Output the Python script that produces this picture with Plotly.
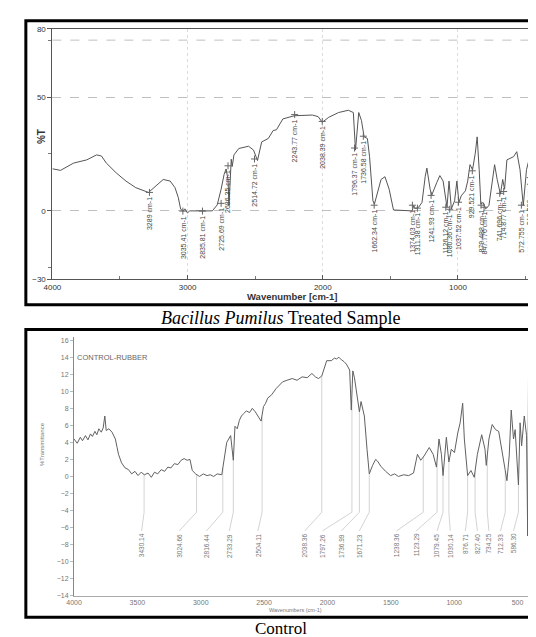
import plotly.graph_objects as go

W, H = 536, 637

# ---------------- Top spectrum: Bacillus Pumilus treated sample ----------------
top_wn = [4000, 3940, 3843, 3746, 3673, 3637, 3601, 3528, 3456, 3383,
          3289, 3238, 3180, 3129, 3093, 3069, 3051, 3033, 3020, 3001,
          2984, 2817, 2781, 2752, 2730, 2715, 2701, 2694, 2684, 2677,
          2670, 2657, 2621, 2549, 2512, 2483, 2452, 2403, 2367, 2343,
          2295, 2210, 2077, 2034, 2004, 1956, 1883, 1811, 1774, 1758,
          1734, 1714, 1694, 1670, 1654, 1629, 1618, 1593, 1569, 1540,
          1509, 1477, 1339, 1327, 1315, 1291, 1266, 1242, 1230, 1206,
          1194, 1157, 1134, 1110, 1090, 1081, 1066, 1049, 1025, 1008,
          993, 976, 945, 928, 911, 892, 872, 858, 843, 831,
          814, 795, 771, 747, 729, 710, 686, 669, 655, 638,
          589, 565, 541, 517, 493, 475, 456, 444, 437, 430,
          420, 412, 404]
top_T = [18.5, 17.8, 21, 22.4, 24.6, 24.1, 21, 16.7, 13.1, 10.2,
         8.1, 10.9, 13.8, 13.1, 10.2, 5.9, 0.7, 0, 0.9, -0.9,
         0, 0, 2.6, 9.5, 16, 18.4, 13.8, 2.3, 11.6, 22.7,
         19.5, 24.6, 27.4, 28.4, 26.7, 22.1, 30.3, 31.8, 35.3, 35.6,
         40.4, 41.8, 42.1, 41.4, 38.9, 41.1, 43.2, 44.2, 43.2, 26.7,
         43.2, 39.7, 32.5, 31.8, 23.8, 4.4, 3, 8, 13.8, 15,
         9.5, 0.4, 0, 2.3, 1, 1.6, 3.7, 15.2, 18.8, 9.5,
         6.9, 12.4, 15.5, 13.1, 4.4, 1.6, 13.1, 0.9, 4.4, 13.1,
         3.7, 6.6, 8.8, 13.1, 20.3, 18.1, 25.3, 32.5, 18.1, 3,
         3.7, 0.9, 2.3, 13.8, 20.3, 13.8, 7.3, 13.8, 9.5, 22.4,
         23.8, 26, 18.1, 2.3, 18.1, 22.4, 13.8, 22.4, 52.6, 26.7,
         52.6, 31, 50]

top_peak_labels = ["3289 cm-1", "3035.41 cm-1", "2835.81 cm-1", "2725.69 cm-1",
                   "2686.35 cm-1", "2514.72 cm-1", "2243.77 cm-1", "2038.39 cm-1",
                   "1796.37 cm-1", "1736.58 cm-1", "1662.34 cm-1", "1374.03 cm-1",
                   "1311.38 cm-1", "1241.93 cm-1", "1126.12 cm-1", "1080.36 cm-1",
                   "1037.52 cm-1", "929.521 cm-1", "879.488 cm-1", "847.776 cm-1",
                   "741.696 cm-1", "714.877 cm-1", "572.755 cm-1", "513.936 cm-1",
                   "465.187 cm-1", "449.333 cm-1", "440.444 cm-1", "419.785 cm-1",
                   "410.761 cm-1"]
top_peak_wn = [3282, 3035, 2890, 2752, 2701, 2505, 2208, 2004, 1765, 1700,
               1620, 1337, 1300, 1199, 1090, 1061, 996, 894, 829, 807,
               691, 662, 531, 466, 456, 466, 456, 446, 446]
top_peak_T = [6.5, -1.7, -1.7, 1.7, 18.2, 21.2, 40.7, 37.7, 26, 31.2,
              0.9, 0.9, -0.4, 5.2, 0, -0.9, 2.2, 16, 0.9, 0,
              6.1, 6.9, 0.9, 13, 46.3, -1.3, -1.3, 46.3, -1.3]

# ---------------- Bottom spectrum: control rubber ----------------
bot_wn = [4000, 3975, 3950, 3933, 3910, 3890, 3870, 3855, 3835, 3820,
          3804, 3785, 3770, 3757, 3746, 3725, 3700, 3674, 3660, 3649,
          3625, 3597, 3570, 3545, 3519, 3495, 3470, 3445, 3416, 3390,
          3365, 3340, 3312, 3285, 3260, 3235, 3209, 3180, 3155, 3131,
          3108, 3085, 3067, 3040, 3010, 2980, 2950, 2925, 2898, 2870,
          2834, 2821, 2795, 2764, 2751, 2743, 2730, 2712, 2695, 2679,
          2660, 2640, 2615, 2593, 2570, 2549, 2524, 2505, 2488, 2472,
          2440, 2407, 2380, 2355, 2320, 2278, 2240, 2200, 2160, 2123,
          2095, 2071, 2045, 2030, 2006, 1970, 1945, 1929, 1910, 1890,
          1870, 1851, 1825, 1812, 1800, 1787, 1760, 1748, 1735, 1709,
          1688, 1670, 1644, 1620, 1605, 1579, 1541, 1502, 1470, 1440,
          1399, 1360, 1321, 1290, 1264, 1238, 1197, 1166, 1140, 1120,
          1101, 1088, 1062, 1042, 1023, 998, 972, 953, 933, 920,
          894, 868, 842, 817, 783, 757, 747, 726, 700, 674,
          649, 628, 597, 584, 566, 550, 532, 519, 493, 480,
          468, 447, 429, 420, 412]
bot_T = [4.4, 3.9, 4.6, 4.2, 4.8, 4.3, 5.0, 4.7, 5.3, 4.9,
         5.6, 5.2, 5.7, 7.1, 5.4, 5.6, 5.2, 4.4, 3.4, 2.6,
         1.6, 1.0, 0.8, 0.3, 0.6, 0.1, 0.5, 0.2, 0.4, -0.1,
         0.5, 0.3, 0.8, 0.6, 1.1, 1.0, 1.5, 1.4, 1.9, 2.1,
         1.9, 2.0, 0.7, 0.3, 0.0, 0.3, 0.1, 0.2, 0.0, 0.3,
         0.2, 1.5, 4.0, 4.8, 2.8, 1.9, 5.9, 5.6, 6.6, 7.1,
         7.4, 7.7, 7.5, 8.0, 7.6, 7.1, 6.5, 8.2, 8.6, 9.2,
         9.6, 10.3, 10.7, 11.1, 11.3, 11.5, 11.3, 11.7, 11.6, 12.1,
         11.7, 11.5, 11.8, 12.6, 13.6, 13.6, 13.9, 13.8, 14.0, 13.7,
         13.5, 13.2, 12.5, 7.8, 12.4, 11.6, 8.6, 7.6, 8.8, 7.1,
         3.2, 0.3, 1.3, 2.0, 1.8, 1.2, 0.6, 0.1, 0.3, 0.0,
         0.2, 0.1, 0.4, 2.6, 1.9, 2.4, 3.4, 2.6, 1.1, 4.4,
         2.6, 0.1, 4.6, 1.7, 3.2, 2.8, 5.1, 6.3, 8.6, 4.4,
         0.1, 0.7, -0.1, 2.6, 4.9, 3.2, 1.3, 4.4, 6.1, 5.5,
         5.3, 3.6, 0.7, -0.5, 2.4, 7.8, 4.4, 5.5, -1.0, 6.3,
         3.6, 7.1, 4.8, -7.0, 16.5]

bot_peak_labels = ["3430.14", "3024.66", "2816.44", "2733.29", "2504.11", "2038.36",
                   "1797.26", "1736.99", "1671.23", "1238.36", "1123.29", "1079.45",
                   "1030.14", "876.71", "827.40", "734.25", "712.33", "586.30"]
bot_peak_wn = [3447, 3033, 2826, 2743, 2516, 2045, 1807, 1748, 1670, 1244,
               1135, 1088, 1042, 894, 835, 739, 597, 493]
bot_peak_T = [0.3, 0.2, 1.0, 1.9, 7.0, 11.8, 9.0, 7.6, 0.3, 2.3,
              1.5, 0.1, 1.7, 0.1, 0.5, 2.5, 0.7, -1.0]
bot_label_wn = [3467, 3170, 2955, 2774, 2549, 2179, 2040, 1890, 1748, 1455,
                1300, 1135, 1031, 912, 817, 726, 635, 532]

top_xticks = [4000, 3000, 2000, 1000, 400]
top_yticks = [80, 50, 0, -30]
bot_xticks = [4000, 3500, 3000, 2500, 2000, 1500, 1000, 500]
bot_yticks = [-14, -12, -10, -8, -6, -4, -2, 0, 2, 4, 6, 8, 10, 12, 14, 16]


def px(x):
    return x / W


def py(y):
    return 1 - y / H


SANS = "Liberation Sans, Arial, sans-serif"
SERIF = "Liberation Serif, Times New Roman, serif"

fig = go.Figure()

# top spectrum
fig.add_trace(go.Scatter(x=top_wn, y=top_T, mode="lines",
                         line=dict(color="#555", width=1),
                         xaxis="x", yaxis="y", hoverinfo="skip"))
# peak "+" marks
fig.add_trace(go.Scatter(x=top_peak_wn, y=[t + 1.6 for t in top_peak_T], mode="markers",
                         marker=dict(symbol="cross-thin", size=5, line=dict(width=1, color="#666")),
                         xaxis="x", yaxis="y", hoverinfo="skip"))

# bottom connectors
cx, cy = [], []
for pw, pt, lw in zip(bot_peak_wn, bot_peak_T, bot_label_wn):
    cx += [pw, pw, lw, None]
    cy += [pt, -4.2, -6.4, None]
fig.add_trace(go.Scatter(x=cx, y=cy, mode="lines",
                         line=dict(color="#c8c8c8", width=0.8),
                         xaxis="x2", yaxis="y2", hoverinfo="skip"))
fig.add_trace(go.Scatter(x=bot_wn, y=bot_T, mode="lines",
                         line=dict(color="#606060", width=1),
                         xaxis="x2", yaxis="y2", hoverinfo="skip"))

annotations = []
for lab, wn, t in zip(top_peak_labels, top_peak_wn, top_peak_T):
    annotations.append(dict(x=wn, y=t, xref="x", yref="y", text=lab, showarrow=False,
                            textangle=-90, xanchor="center", yanchor="top", borderpad=0,
                            font=dict(family=SANS, size=7, color="#444")))
for lab, lw in zip(bot_peak_labels, bot_label_wn):
    annotations.append(dict(x=lw, y=-6.6, xref="x2", yref="y2", text=lab, showarrow=False,
                            textangle=-90, xanchor="center", yanchor="top", borderpad=0,
                            font=dict(family=SANS, size=6.5, color="#777")))

# axis titles / texts
annotations += [
    dict(x=px(18), y=py(117), xref="paper", yref="paper", text="<b>%T</b>", showarrow=False,
         textangle=-90, font=dict(family=SANS, size=10, color="#333")),
    dict(x=px(280), y=py(289), xref="paper", yref="paper", text="<b>Wavenumber [cm-1]</b>",
         showarrow=False, font=dict(family=SANS, size=9.5, color="#333")),
    dict(x=px(268), y=py(310), xref="paper", yref="paper",
         text="<i>Bacillus Pumilus</i> Treated Sample", showarrow=False,
         font=dict(family=SERIF, size=18, color="#000")),
    dict(x=px(21), y=py(463), xref="paper", yref="paper", text="%Transmittance", showarrow=False,
         textangle=-90, font=dict(family=SANS, size=6, color="#777")),
    dict(x=px(59), y=py(350), xref="paper", yref="paper", text="CONTROL-RUBBER", showarrow=False,
         xanchor="left", font=dict(family=SANS, size=7.5, color="#666")),
    dict(x=px(283), y=py(603), xref="paper", yref="paper", text="Wavenumbers (cm-1)",
         showarrow=False, yanchor="top", borderpad=0, font=dict(family=SANS, size=5.5, color="#777")),
    dict(x=px(268), y=py(636), xref="paper", yref="paper", text="Control", showarrow=False,
         yanchor="bottom", borderpad=0, font=dict(family=SERIF, size=17, color="#000")),
]

shapes = [
    dict(type="rect", xref="paper", yref="paper", x0=px(9), x1=px(536.5), y0=py(297), y1=py(9),
         line=dict(color="#000", width=3)),
    dict(type="rect", xref="paper", yref="paper", x0=px(9), x1=px(536.5), y0=py(614), y1=py(322),
         line=dict(color="#000", width=3)),
    dict(type="line", xref="x domain", yref="y", x0=0, x1=1, y0=75, y1=75,
         line=dict(color="#c0c0c0", width=1, dash="dash")),
]

fig.update_layout(
    width=W, height=H,
    margin=dict(l=0, r=0, t=0, b=0),
    paper_bgcolor="white", plot_bgcolor="white",
    showlegend=False,
    annotations=annotations,
    shapes=shapes,
    xaxis=dict(domain=[px(36), px(531)], range=[4000, 400], anchor="y",
               tickvals=top_xticks, ticks="inside", ticklen=4, tickcolor="#555",
               tickfont=dict(family=SANS, size=8, color="#333"),
               showline=True, linecolor="#555", linewidth=1, mirror=True,
               showgrid=True, gridcolor="#dcdcdc", griddash="dot", zeroline=False,
               minor=dict(dtick=500, ticks="inside", ticklen=3, tickcolor="#777", showgrid=False)),
    yaxis=dict(domain=[py(271), py(17)], range=[-30, 80], anchor="x",
               tickvals=top_yticks, ticks="outside", ticklen=4, tickcolor="#555",
               tickfont=dict(family=SANS, size=8, color="#333"),
               showline=True, linecolor="#555", linewidth=1,
               showgrid=True, gridcolor="#c0c0c0", griddash="dash", zeroline=False,
               minor=dict(tickmode="array", tickvals=[75, 25, -25], ticks="outside",
                          ticklen=3, tickcolor="#777", showgrid=False)),
    xaxis2=dict(domain=[px(58), px(522)], range=[4000, 400], anchor="y2",
                tickvals=bot_xticks, ticks="", ticklabelstandoff=0,
                tickfont=dict(family=SANS, size=7, color="#777"),
                showline=True, linecolor="#aaa", linewidth=1,
                showgrid=False, zeroline=False),
    yaxis2=dict(domain=[py(592), py(329.5)], range=[-14, 16.4], anchor="x2",
                tickvals=bot_yticks, ticks="outside", ticklen=3, tickcolor="#bbb",
                tickfont=dict(family=SANS, size=7, color="#777"),
                showline=True, linecolor="#888", linewidth=1,
                showgrid=False, zeroline=False),
)

fig.write_html("out.html")
